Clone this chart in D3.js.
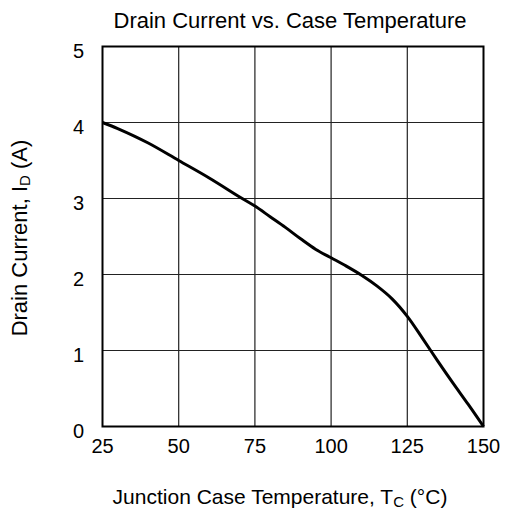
<!DOCTYPE html>
<html>
<head>
<meta charset="utf-8">
<script src="https://cdn.jsdelivr.net/npm/d3@7"></script>
<style>
  body { margin: 0; background: #fff; }
  text { font-family: "Liberation Sans", Arial, sans-serif; fill: #000; }
</style>
</head>
<body>
<svg id="chart" width="507" height="516"></svg>
<script>
// Case temperature (°C) and drain current (A)
var temps = [25, 30, 40, 50, 60, 70, 75, 80, 85, 90, 95, 100, 105, 110, 115, 120, 125, 130, 135, 140, 145, 150];
var current = [4.0, 3.92, 3.73, 3.50, 3.27, 3.02, 2.90, 2.76, 2.62, 2.47, 2.33, 2.22, 2.11, 1.99, 1.85, 1.68, 1.45, 1.16, 0.86, 0.57, 0.29, 0];
var xTicks = [25, 50, 75, 100, 125, 150];
var yTicks = [0, 1, 2, 3, 4, 5];

var svg = d3.select("#chart");
var plotL = 102.5, plotR = 483.5, plotT = 46.5, plotB = 426.5;

var x = d3.scaleLinear().domain([25, 150]).range([plotL, plotR]);
var y = d3.scaleLinear().domain([0, 5]).range([plotB, plotT]);

// grid
svg.append("g").selectAll("line")
  .data(xTicks.slice(1, -1))
  .enter().append("line")
  .attr("x1", function(d) { return x(d); })
  .attr("x2", function(d) { return x(d); })
  .attr("y1", plotT).attr("y2", plotB)
  .attr("stroke", "#222").attr("stroke-width", 1.2);

svg.append("g").selectAll("line")
  .data(yTicks.slice(1, -1))
  .enter().append("line")
  .attr("y1", function(d) { return y(d); })
  .attr("y2", function(d) { return y(d); })
  .attr("x1", plotL).attr("x2", plotR)
  .attr("stroke", "#222").attr("stroke-width", 1.2);

// frame
svg.append("rect")
  .attr("x", plotL).attr("y", plotT)
  .attr("width", plotR - plotL).attr("height", plotB - plotT)
  .attr("fill", "none").attr("stroke", "#000").attr("stroke-width", 2);

// tick labels
svg.append("g").selectAll("text")
  .data(xTicks)
  .enter().append("text")
  .attr("x", function(d) { return x(d); })
  .attr("y", 453)
  .attr("text-anchor", "middle")
  .style("font-size", "20px")
  .text(function(d) { return d; });

svg.append("g").selectAll("text")
  .data(yTicks)
  .enter().append("text")
  .attr("x", 84)
  .attr("y", function(d) { return y(d) + 11; })
  .attr("text-anchor", "end")
  .style("font-size", "20px")
  .text(function(d) { return d; });

// curve
var line = d3.line()
  .x(function(d, i) { return x(temps[i]); })
  .y(function(d) { return y(d); })
  .curve(d3.curveCatmullRom.alpha(0.5));

svg.append("path")
  .datum(current)
  .attr("d", line)
  .attr("fill", "none")
  .attr("stroke", "#000")
  .attr("stroke-width", 3);

// titles
svg.append("text")
  .attr("x", 290).attr("y", 28)
  .attr("text-anchor", "middle")
  .style("font-size", "22px")
  .text("Drain Current vs. Case Temperature");

var xl = svg.append("text")
  .attr("x", 280).attr("y", 504)
  .attr("text-anchor", "middle")
  .style("font-size", "21px");
xl.append("tspan").text("Junction Case Temperature, T");
xl.append("tspan").attr("dy", 3).style("font-size", "15px").text("C");
xl.append("tspan").attr("dy", -3).text(" (°C)");

var yl = svg.append("text")
  .attr("transform", "translate(27,238) rotate(-90)")
  .attr("text-anchor", "middle")
  .style("font-size", "22px");
yl.append("tspan").text("Drain Current, I");
yl.append("tspan").attr("dy", 3).style("font-size", "15px").text("D");
yl.append("tspan").attr("dy", -3).text(" (A)");
</script>
</body>
</html>
